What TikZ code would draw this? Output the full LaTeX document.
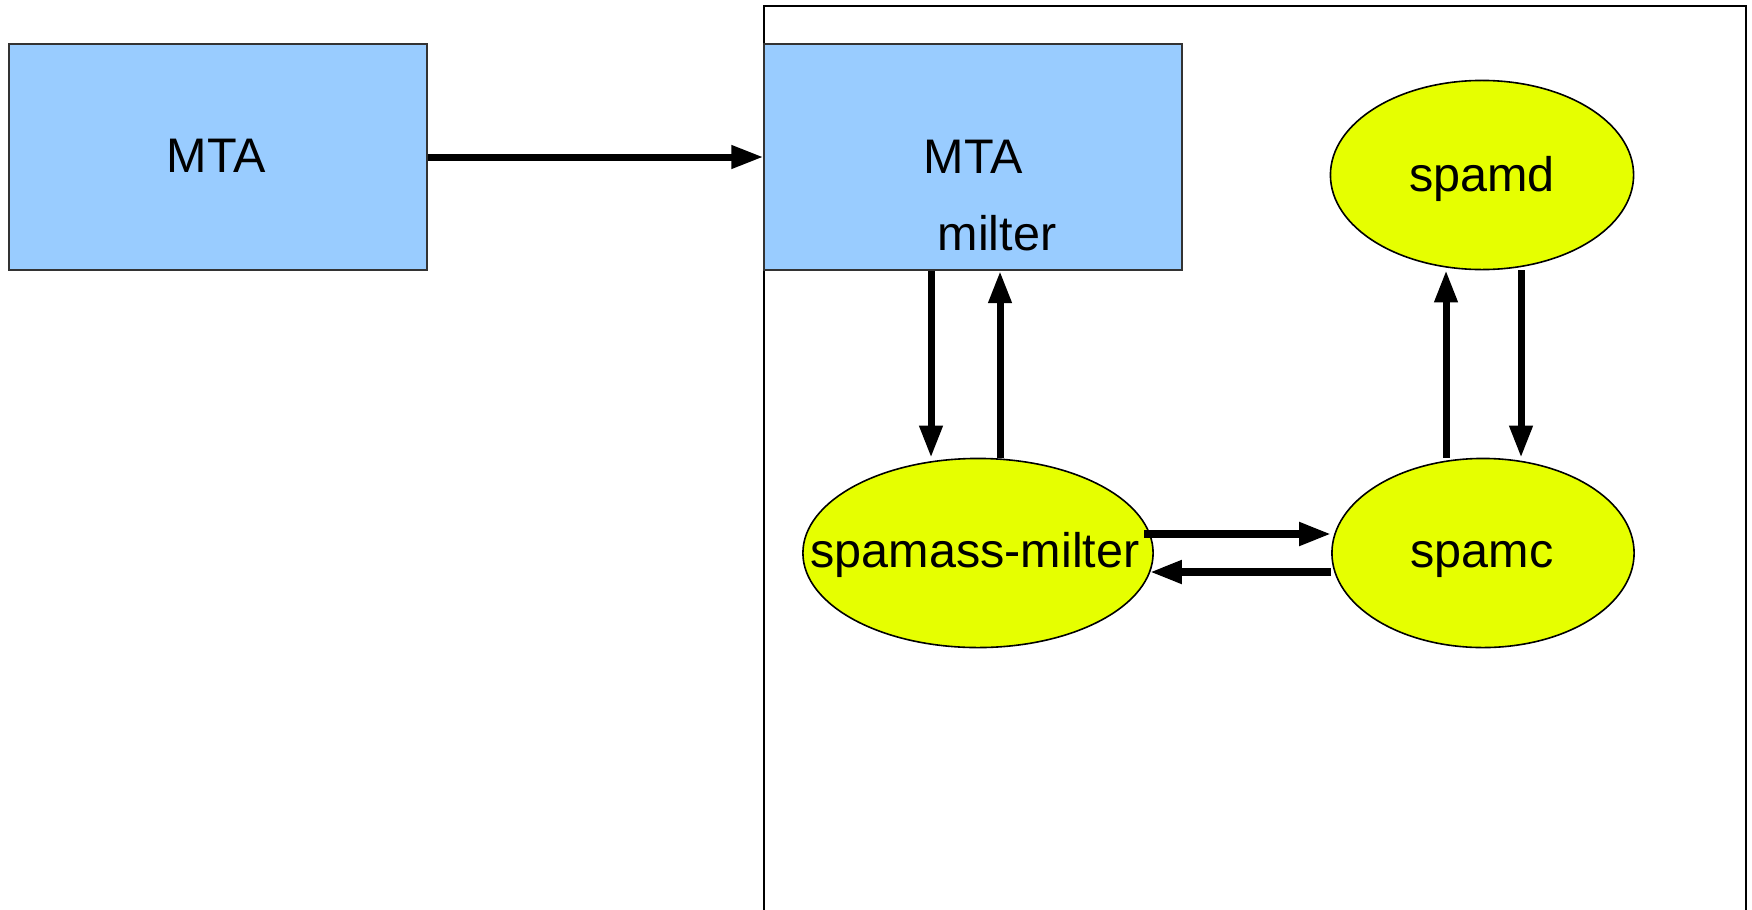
\documentclass[tikz,border=0pt]{standalone}
\usepackage{fontspec}
\setmainfont{Liberation Sans}
\usetikzlibrary{arrows.meta,shapes.geometric,calc}
\definecolor{boxblue}{HTML}{99CCFF}
\definecolor{procyellow}{HTML}{E6FF00}
\begin{document}
\begin{tikzpicture}[x=0.01cm,y=-0.01cm,
  mtabox/.style={rectangle, draw=black!80, line width=0.02cm, fill=boxblue,
    minimum width=4.17cm, minimum height=2.26cm, inner sep=0pt},
  proc/.style={ellipse, draw=black, line width=0.016cm, fill=procyellow, inner sep=0pt,
    minimum height=1.89cm},
  lbl/.style={anchor=base, inner sep=0pt, font=\fontsize{13.8}{16}\selectfont},
  flow/.style={-{Triangle[length=0.32cm,width=0.22cm]}, line width=0.07cm}]
\useasboundingbox[fill=white] (0,0) rectangle (1752,909);

% host frame around the filtering side (open at the bottom)
\draw[line width=0.02cm] (764,920) -- (764,6) -- (1746,6) -- (1746,920);

% shapes
\node[mtabox] (mta) at (218,157) {};
\node[mtabox] (mtain) at (973,157) {};
\node[proc, minimum width=3.03cm] (spamd) at (1482,175) {};
\node[proc, minimum width=3.50cm] (sm) at (978,553) {};
\node[proc, minimum width=3.02cm] (spamc) at (1483,553) {};

% texts
\node[lbl] (mtatxt) at (216,172) {MTA};
\node[lbl] (mtaintxt) at (973,173) {MTA};
\node[lbl] (miltertxt) at (997,250) {milter};
\node[lbl] (spamdtxt) at (1482,191) {spamd};
\node[lbl] (smtxt) at (975,567) {spamass-milter};
\node[lbl] (spamctxt) at (1482,567) {spamc};

% helper positions for the parallel connectors
\coordinate (xa) at (931,0);
\coordinate (xb) at (1000,0);
\coordinate (xc) at (1446,0);
\coordinate (xd) at (1521,0);
\coordinate (ya) at (0,534);
\coordinate (yb) at (0,572);

% connectors
\draw[flow] (mta.east) -- (mtain.west);
\draw[flow] (mtain.south -| xa) -- (sm.north -| xa);
\draw[flow] (sm.north -| xb) -- (mtain.south -| xb);
\draw[flow] (spamc.north -| xc) -- (spamd.south -| xc);
\draw[flow] (spamd.south -| xd) -- (spamc.north -| xd);
\draw[flow, line width=0.075cm] ($(sm.east |- ya)+(-10,0)$) -- (spamc.west |- ya);
\draw[flow, line width=0.075cm] (spamc.west |- yb) -- ($(sm.east |- yb)+(-4,0)$);
\end{tikzpicture}
\end{document}
